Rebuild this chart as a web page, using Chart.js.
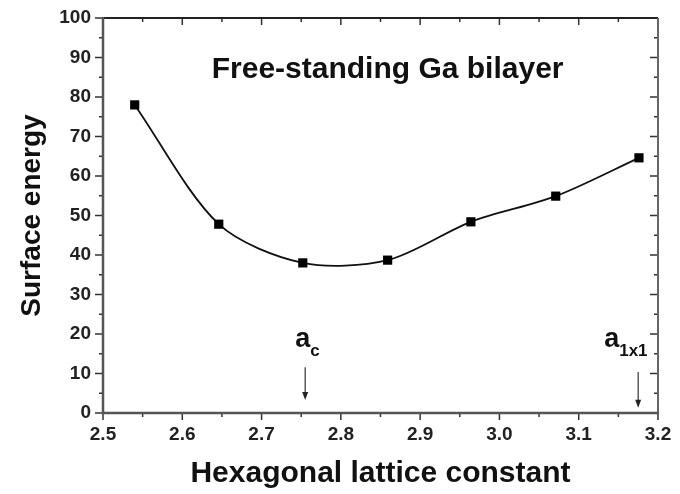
<!DOCTYPE html>
<html>
<head>
<meta charset="utf-8">
<script src="https://cdn.jsdelivr.net/npm/chart.js@4.4.0/dist/chart.umd.min.js"></script>
<style>
  html, body { margin: 0; padding: 0; background: #fff; }
  #wrap { width: 680px; height: 494px; }
</style>
</head>
<body>
<div id="wrap"><canvas id="energyChart"></canvas></div>
<script>
const latticeConst = [2.540, 2.646, 2.752, 2.859, 2.964, 3.071, 3.176];
const surfaceEnergy = [78.0, 47.8, 38.0, 38.7, 48.4, 54.9, 64.6];

const xTicks = [2.5, 2.6, 2.7, 2.8, 2.9, 3.0, 3.1, 3.2];
const yTicks = [0, 10, 20, 30, 40, 50, 60, 70, 80, 90, 100];

const markerX = [2.755, 3.175];
const markerSub = ["c", "1x1"];

const FONT = "'Liberation Sans', Arial, sans-serif";

const framePlugin = {
    id: "frame",
    afterDraw(chart) {
        const ctx = chart.ctx;
        const a = chart.chartArea;
        const x = chart.scales.x;
        const y = chart.scales.y;
        ctx.save();

        // ticks, major and minor
        ctx.strokeStyle = "#333";
        ctx.lineWidth = 1.5;
        ctx.beginPath();
        for (let i = 0; i <= 14; i++) {
            const px = x.getPixelForValue(2.5 + i * 0.05);
            const len = i % 2 === 0 ? 7 : 4;
            ctx.moveTo(px, a.bottom); ctx.lineTo(px, a.bottom + len);
            ctx.moveTo(px, a.top); ctx.lineTo(px, a.top + len);
        }
        for (let i = 0; i <= 20; i++) {
            const py = y.getPixelForValue(i * 5);
            const len = i % 2 === 0 ? 8 : 4;
            ctx.moveTo(a.left - len, py); ctx.lineTo(a.left, py);
            ctx.moveTo(a.right - len, py); ctx.lineTo(a.right, py);
        }
        ctx.stroke();

        // frame
        ctx.lineWidth = 2;
        ctx.strokeStyle = "#222";
        ctx.beginPath();
        ctx.moveTo(a.left, a.top); ctx.lineTo(a.right, a.top);
        ctx.stroke();
        ctx.strokeStyle = "#666";
        ctx.beginPath();
        ctx.moveTo(a.right, a.top); ctx.lineTo(a.right, a.bottom);
        ctx.stroke();
        ctx.lineWidth = 2.5;
        ctx.strokeStyle = "#555";
        ctx.beginPath();
        ctx.moveTo(a.left, a.top - 1); ctx.lineTo(a.left, a.bottom);
        ctx.lineTo(a.right + 1, a.bottom);
        ctx.stroke();

        // inset title
        ctx.fillStyle = "#111";
        ctx.font = "bold 30px " + FONT;
        ctx.textAlign = "center";
        ctx.textBaseline = "alphabetic";
        ctx.fillText("Free-standing Ga bilayer", x.getPixelForValue(2.859), y.getPixelForValue(84.8));

        // lattice markers with arrows
        const shifts = [-10, -34];
        markerX.forEach((v, i) => {
            const px = x.getPixelForValue(v);
            const base = y.getPixelForValue(16.7);
            ctx.textAlign = "left";
            ctx.font = "bold 27px " + FONT;
            const start = px + shifts[i];
            ctx.fillText("a", start, base);
            const wa = ctx.measureText("a").width;
            ctx.font = "bold 17px " + FONT;
            ctx.fillText(markerSub[i], start + wa, base + 9);

            const yTop = y.getPixelForValue(i === 0 ? 11.6 : 10.4);
            const yBot = y.getPixelForValue(i === 0 ? 3.3 : 1.3);
            ctx.strokeStyle = "#333";
            ctx.lineWidth = 1.2;
            ctx.beginPath();
            ctx.moveTo(px, yTop); ctx.lineTo(px, yBot - 6);
            ctx.stroke();
            ctx.fillStyle = "#222";
            ctx.beginPath();
            ctx.moveTo(px - 3, yBot - 8);
            ctx.lineTo(px + 3, yBot - 8);
            ctx.lineTo(px, yBot);
            ctx.closePath();
            ctx.fill();
            ctx.fillStyle = "#111";
        });

        ctx.restore();
    }
};

const energyChart = new Chart(document.getElementById("energyChart"), {
    type: "line",
    data: {
        labels: latticeConst,
        datasets: [{
            label: "Surface energy",
            data: latticeConst.map((v, i) => ({ x: v, y: surfaceEnergy[i] })),
            borderColor: "#111",
            borderWidth: 1.8,
            tension: 0.3,
            fill: false,
            pointStyle: "rect",
            pointRadius: 6.5,
            pointBackgroundColor: "#000",
            pointBorderColor: "#000",
            pointBorderWidth: 0
        }]
    },
    options: {
        responsive: true,
        maintainAspectRatio: false,
        animation: false,
        layout: { padding: { top: 18, right: 22, left: 0, bottom: 0 } },
        plugins: {
            legend: { display: false },
            tooltip: { enabled: false }
        },
        scales: {
            x: {
                type: "linear",
                min: 2.5,
                max: 3.2,
                afterBuildTicks: s => { s.ticks = xTicks.map(v => ({ value: v })); },
                afterFit: s => { s.height = 81; s.paddingLeft = 0; s.paddingRight = 0; },
                grid: { display: false, drawTicks: false },
                border: { display: false },
                ticks: {
                    padding: 10,
                    color: "#222",
                    font: { family: FONT, size: 19, weight: "bold" },
                    callback: v => v.toFixed(1),
                    maxRotation: 0,
                    autoSkip: false
                },
                title: {
                    display: true,
                    text: "Hexagonal lattice constant",
                    color: "#111",
                    font: { family: FONT, size: 30, weight: "bold" },
                    padding: { top: 0, bottom: 2 }
                }
            },
            y: {
                min: 0,
                max: 100,
                afterBuildTicks: s => { s.ticks = yTicks.map(v => ({ value: v })); },
                afterFit: s => { s.width = 103; s.paddingTop = 0; s.paddingBottom = 0; },
                grid: { display: false, drawTicks: false },
                border: { display: false },
                ticks: {
                    padding: 12,
                    color: "#222",
                    font: { family: FONT, size: 19, weight: "bold" },
                    autoSkip: false
                },
                title: {
                    display: true,
                    text: "Surface energy",
                    color: "#111",
                    font: { family: FONT, size: 28, weight: "bold" },
                    padding: { top: 15, bottom: 0 }
                }
            }
        }
    },
    plugins: [framePlugin]
});
</script>
</body>
</html>
